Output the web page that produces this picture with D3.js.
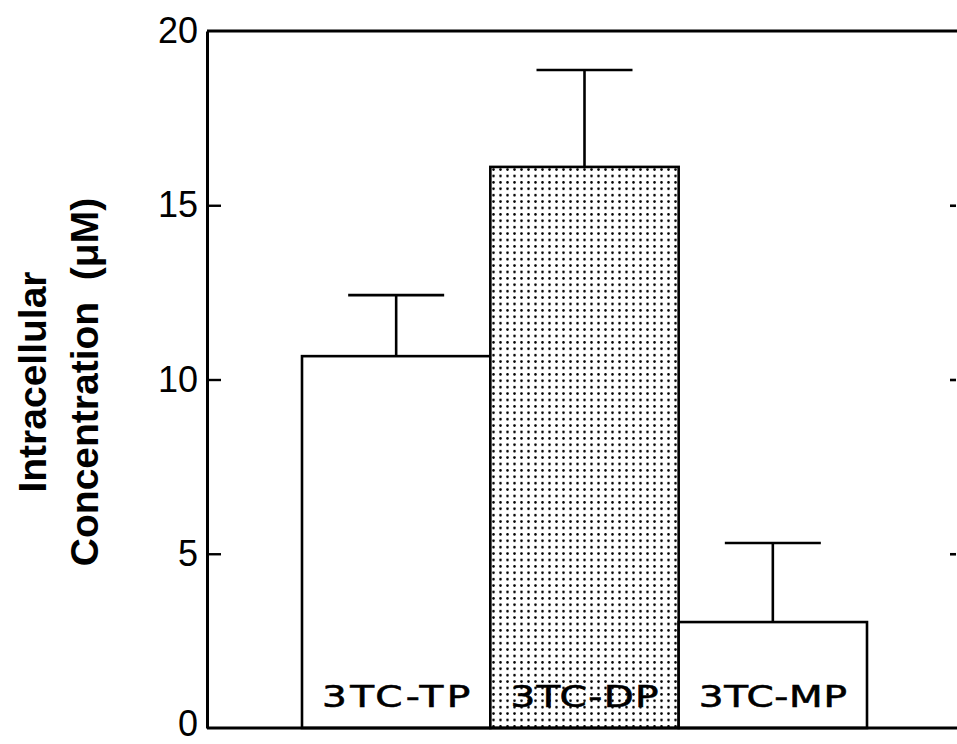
<!DOCTYPE html>
<html>
<head>
<meta charset="utf-8">
<script src="https://cdn.jsdelivr.net/npm/d3@7"></script>
<style>
  body { margin: 0; background: #fff; }
  svg { display: block; }
</style>
</head>
<body>
<script>
// values
var categories = ["3TC-TP", "3TC-DP", "3TC-MP"];
var means = [10.67, 16.1, 3.04];
var upper = [12.42, 18.88, 5.31];   // top of error bar
var yTicks = [0, 5, 10, 15, 20];

var width = 957,
    height = 744;

var plotLeft = 207, plotRight = 957, plotTop = 31, plotBottom = 728;

var svg = d3.select("body").append("svg")
    .attr("width", width)
    .attr("height", height);

// dotted fill for the DP bar
var defs = svg.append("defs");
var pat = defs.append("pattern")
    .attr("id", "dots")
    .attr("patternUnits", "userSpaceOnUse")
    .attr("width", 7)
    .attr("height", 6.4);
pat.append("rect").attr("width", 7).attr("height", 6.4).attr("fill", "#fff");
pat.append("circle").attr("cx", 3.5).attr("cy", 3.2).attr("r", 1.3).attr("fill", "#000");

var y = d3.scaleLinear()
    .domain([0, 20])
    .range([plotBottom, plotTop]);

var x = d3.scaleBand()
    .domain(categories)
    .range([302, 867])
    .paddingInner(0);

var data = categories.map(function(c, i){
  return {name: c, mean: means[i], hi: upper[i]};
});

// bars
svg.selectAll(".bar")
  .data(data)
  .enter().append("rect")
    .attr("class", "bar")
    .attr("x", function(d){ return x(d.name); })
    .attr("y", function(d){ return y(d.mean); })
    .attr("width", x.bandwidth())
    .attr("height", function(d){ return y(0) - y(d.mean); })
    .attr("fill", function(d){ return d.name == "3TC-DP" ? "url(#dots)" : "#fff"; })
    .attr("stroke", "#000")
    .attr("stroke-width", 2.6);

// error bars (upper only)
var err = svg.selectAll(".err")
  .data(data)
  .enter().append("g")
    .attr("class", "err")
    .attr("stroke", "#000")
    .attr("stroke-width", 2.6);

err.append("line")
    .attr("x1", function(d){ return x(d.name) + x.bandwidth()/2; })
    .attr("x2", function(d){ return x(d.name) + x.bandwidth()/2; })
    .attr("y1", function(d){ return y(d.mean); })
    .attr("y2", function(d){ return y(d.hi); });

err.append("line")
    .attr("x1", function(d){ return x(d.name) + x.bandwidth()/2 - 48; })
    .attr("x2", function(d){ return x(d.name) + x.bandwidth()/2 + 48; })
    .attr("y1", function(d){ return y(d.hi); })
    .attr("y2", function(d){ return y(d.hi); });

// labels inside the bars (wide plotter-style lettering)
svg.selectAll(".blabel")
  .data(data)
  .enter().append("text")
    .attr("class", "blabel")
    .attr("transform", function(d){
      return "translate(" + (x(d.name) + x.bandwidth()/2) + ",707) scale(1.3,1)";
    })
    .attr("text-anchor", "middle")
    .attr("font-family", "DejaVu Sans")
    .attr("font-size", 30)
    .attr("stroke", "#000")
    .attr("stroke-width", 0.6)
    .attr("textLength", 114)
    .attr("lengthAdjust", "spacing")
    .text(function(d){ return d.name; });

// frame: top and bottom lines run to the right edge
svg.append("line")
    .attr("x1", plotLeft).attr("x2", plotRight)
    .attr("y1", y(20)).attr("y2", y(20))
    .attr("stroke", "#000").attr("stroke-width", 3.2);
svg.append("line")
    .attr("x1", plotLeft).attr("x2", plotRight)
    .attr("y1", y(0)).attr("y2", y(0))
    .attr("stroke", "#000").attr("stroke-width", 3);

// left axis, ticks pointing inwards
var yAxis = d3.axisLeft(y)
    .tickValues(yTicks)
    .tickFormat(d3.format("d"))
    .tickSizeInner(-14)
    .tickSizeOuter(0)
    .tickPadding(9);

var ga = svg.append("g")
    .attr("transform", "translate(" + plotLeft + ",0)")
    .call(yAxis);
ga.select(".domain").attr("stroke-width", 3);
ga.selectAll(".tick line")
    .attr("stroke-width", 2.4)
    .filter(function(d){ return d == 0 || d == 20; }).remove();
ga.selectAll(".tick text")
    .attr("font-family", "Liberation Sans")
    .attr("font-size", 36)
    .attr("fill", "#000")
    .attr("dy", function(d){ return d == 0 ? "0.2em" : "0.32em"; });

// short inward ticks at the right edge
var yRight = d3.axisRight(y)
    .tickValues([5, 10, 15])
    .tickFormat("")
    .tickSizeInner(-6)
    .tickSizeOuter(0);

var gr = svg.append("g")
    .attr("transform", "translate(" + (plotRight - 1) + ",0)")
    .call(yRight);
gr.select(".domain").remove();
gr.selectAll(".tick line").attr("stroke-width", 2.6);

// axis title
var title = svg.append("text")
    .attr("transform", "translate(46,382) rotate(-90)")
    .attr("text-anchor", "middle")
    .attr("font-family", "Liberation Sans")
    .attr("font-weight", "bold")
    .attr("font-size", 39);
title.append("tspan")
    .attr("x", 0).attr("y", 0)
    .text("Intracellular");
title.append("tspan")
    .attr("x", 0).attr("y", 52)
    .attr("xml:space", "preserve")
    .text("Concentration  (\u03bcM)");
</script>
</body>
</html>
